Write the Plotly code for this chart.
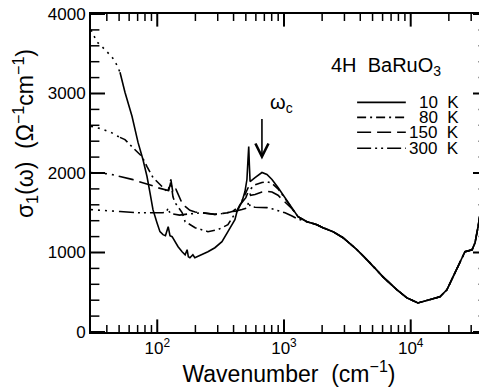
import math
import plotly.graph_objects as go

# ---------------- data ----------------
hf_freq = [1518, 1820, 2030, 2437, 2924, 3770, 4770, 6040, 7800, 9340, 11400,
           14200, 17000, 19300, 21600, 24500, 26800, 30500, 32200, 34000, 36500, 38500, 40000]
hf_sigma = [1388, 1350, 1312, 1262, 1186, 1035, 871, 694, 530, 429, 366,
            404, 442, 530, 694, 871, 1009, 1035, 1123, 1325, 1628, 1792, 1855]

ext_freq = [30, 33.4, 36.6, 40.1, 43.9, 47.2, 50.8]
ext_10K = [3800, 3650, 3590, 3520, 3460, 3380, 3268]
ext_80K = [2587, 2570, 2555, 2530, 2505, 2473, 2448]
ext_150K = [2006, 2002, 1998, 1990, 1980, 1970, 1956]
ext_300K = [1539, 1536, 1533, 1530, 1525, 1520, 1515]

f_10K = [50.8, 55.6, 63.2, 70.5, 77.1, 83.0, 87.6, 92.5, 99.5, 105, 111, 116, 122, 126,
         131, 138, 146, 157, 166, 172, 176, 181, 191, 198, 206, 225, 251, 285, 324, 361,
         410, 426, 466, 492, 510, 520, 527, 533, 540, 591, 670, 734, 804, 897, 1019,
         1157, 1290]
s_10K = [3268, 3016, 2713, 2385, 2170, 1956, 1754, 1539, 1375, 1262, 1224, 1211, 1325, 1211,
         1199, 1136, 1073, 1009, 972, 1035, 946, 934, 972, 934, 946, 972, 1009, 1060, 1136, 1262,
         1413, 1514, 1640, 1767, 1918, 2170, 2334, 2107, 1893, 1943, 2006, 1981, 1918, 1817, 1691,
         1565, 1451]

f_80K = [50.8, 55.6, 63.2, 70.5, 75.7, 83.0, 92.5, 109, 122, 128, 133, 138, 157, 166,
         199, 251, 301, 361, 396, 426, 466, 500, 527, 545, 591, 670, 734, 804, 897, 1019,
         1157, 1290]
s_80K = [2448, 2420, 2330, 2250, 2208, 2080, 1943, 1830, 1754, 1890, 1700, 1628, 1502, 1388,
         1312, 1262, 1287, 1350, 1451, 1530, 1650, 1750, 1830, 1800, 1850, 1880, 1890, 1870, 1800, 1680,
         1560, 1450]

f_150K = [50.8, 55.6, 63.2, 70.5, 77.1, 83.0, 92.5, 99.5, 110, 122, 128, 133, 140, 150,
          157, 166, 181, 199, 225, 251, 285, 324, 361, 396, 426, 466, 500, 527, 545, 591,
          670, 734, 804, 897, 1019, 1157, 1290]
s_150K = [1956, 1943, 1920, 1895, 1880, 1865, 1840, 1817, 1800, 1780, 1920, 1750, 1800, 1680,
          1620, 1580, 1530, 1510, 1500, 1490, 1480, 1490, 1500, 1520, 1560, 1630, 1690, 1780, 1720, 1730,
          1760, 1770, 1760, 1720, 1640, 1550, 1450]

f_300K = [50.8, 55.6, 63.2, 70.5, 83.0, 99.5, 110, 118, 122, 126, 135, 150, 166, 199,
          225, 251, 285, 324, 361, 410, 466, 510, 527, 540, 591, 670, 734, 804, 897, 1019,
          1157, 1290]
s_300K = [1515, 1510, 1505, 1500, 1500, 1500, 1500, 1510, 1560, 1490, 1480, 1470, 1480, 1490,
          1500, 1490, 1480, 1490, 1500, 1520, 1540, 1560, 1640, 1580, 1570, 1570, 1565, 1550, 1530, 1500,
          1460, 1420]

temps = ["10 K", "80 K", "150 K", "300 K"]
arrow_freq = 670
arrow_sigma = 2170

x_min, x_max = 30, 40000
y_min, y_max = 0, 4000
x_major = [100, 1000, 10000]
x_major_text = ["10<sup>2</sup>", "10<sup>3</sup>", "10<sup>4</sup>"]
x_minor = [40, 50, 60, 70, 80, 90, 200, 300, 400, 500, 600, 700, 800, 900,
           2000, 3000, 4000, 5000, 6000, 7000, 8000, 9000, 20000, 30000]
y_major = [0, 1000, 2000, 3000, 4000]
y_minor = [200, 400, 600, 800, 1200, 1400, 1600, 1800, 2200, 2400, 2600, 2800,
           3200, 3400, 3600, 3800]

# ---------------- styles ----------------
dashes = ["solid", "9px,4px,2px,4px", "14px,6px", "14px,4px,2px,4px,2px,4px"]
ext_sets = [ext_10K, ext_80K, ext_150K, ext_300K]
meas_sets = [(f_10K, s_10K), (f_80K, s_80K), (f_150K, s_150K), (f_300K, s_300K)]

fig = go.Figure()
for name, ext, (f, s), dash in zip(temps, ext_sets, meas_sets, dashes):
    fig.add_trace(go.Scatter(x=ext_freq, y=ext, mode="lines", showlegend=False,
                             line=dict(color="black", width=1.6, dash="2px,5px")))
    fig.add_trace(go.Scatter(x=f + hf_freq, y=s + hf_sigma, mode="lines", name=name,
                             showlegend=False, line=dict(color="black", width=1.6, dash=dash)))


# inward tick marks on all four sides (half of each marker is clipped by the frame)
def tick_marks(xs, ys, symbol, length, width):
    fig.add_trace(go.Scatter(x=xs, y=ys, mode="markers", showlegend=False, hoverinfo="skip",
                             cliponaxis=True,
                             marker=dict(symbol=symbol, size=2 * length, color="black",
                                         line=dict(width=width, color="black"))))


for yv in (y_min, y_max):
    tick_marks(x_major, [yv] * len(x_major), "line-ns", 9, 2)
    tick_marks(x_minor, [yv] * len(x_minor), "line-ns", 5, 1.5)
for xv in (x_min, x_max):
    tick_marks([xv] * len(y_major), y_major, "line-ew", 10, 2)
    tick_marks([xv] * len(y_minor), y_minor, "line-ew", 6, 1.5)

FONT = "Liberation Sans"
XR = [math.log10(x_min), math.log10(x_max)]
YR = [y_min, y_max]

fig.update_layout(
    width=479, height=379, margin=dict(l=83, r=0, t=6, b=55, pad=0),
    paper_bgcolor="white", plot_bgcolor="white", showlegend=False,
    font=dict(family=FONT, color="black", size=17),
    xaxis=dict(type="log", range=XR, tickvals=x_major, ticktext=x_major_text, ticks="",
               showline=True, linewidth=2, linecolor="black", mirror=True,
               showgrid=False, zeroline=False, automargin=False,
               ticklabeloverflow="allow",
               title=dict(text="Wavenumber\u00a0\u00a0(cm<sup>\u22121</sup>)",
                          font=dict(size=23), standoff=0)),
    yaxis=dict(range=YR, tickvals=y_major, ticksuffix="\u00a0\u2009",
               ticks="inside", ticklen=10, tickcolor="rgba(0,0,0,0)",
               showline=True, linewidth=2, linecolor="black", mirror=True,
               showgrid=False, zeroline=False, automargin=False,
               ticklabeloverflow="allow"),
)

# y-axis title (placed as rotated text, as in the original figure)
fig.add_annotation(x=-0.167, y=0.625, xref="paper", yref="paper", xanchor="center",
                   yanchor="middle", textangle=-90, showarrow=False,
                   text="\u03c3<sub>1</sub>(\u03c9)\u00a0\u00a0(\u03a9<sup>\u22121</sup>cm<sup>\u22121</sup>)",
                   font=dict(size=23))

# omega_c arrow and label
fig.add_annotation(x=math.log10(arrow_freq), y=arrow_sigma, xref="x", yref="y", text="",
                   showarrow=True, ax=0, ay=-42, arrowhead=5, arrowsize=1.6,
                   arrowwidth=1.6, arrowcolor="black")
fig.add_annotation(x=0.480, y=0.717, xref="paper", yref="paper", xanchor="center",
                   yanchor="middle", text="\u03c9<sub>c</sub>", showarrow=False,
                   font=dict(size=20))

fig.add_annotation(x=0.745, y=0.836, xref="paper", yref="paper", xanchor="center",
                   yanchor="middle", text="4H\u00a0\u00a0BaRuO<sub>3</sub>", showarrow=False,
                   font=dict(size=20))

leg_y = [0.722, 0.675, 0.628, 0.578]
for name, dash, yy in zip(temps, dashes, leg_y):
    fig.add_shape(type="line", xref="paper", yref="paper", x0=0.672, x1=0.795, y0=yy, y1=yy,
                  line=dict(color="black", width=1.6, dash=dash))
    fig.add_annotation(x=0.935, y=yy, xref="paper", yref="paper", xanchor="right",
                       yanchor="middle", text=name.replace(" ", "\u00a0\u00a0"), showarrow=False,
                       font=dict(size=17))

fig.write_html("out.html")
